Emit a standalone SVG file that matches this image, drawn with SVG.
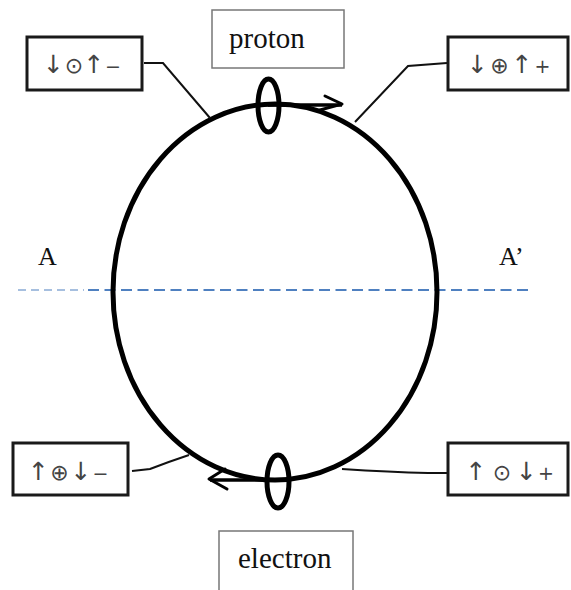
<svg xmlns="http://www.w3.org/2000/svg" width="571" height="590" viewBox="0 0 571 590">
<style>
.sym{fill:none;stroke:#1a1a1a;stroke-width:3}
.lbl{fill:#fff;stroke:#777;stroke-width:1.5}
.symtxt{font-family:"DejaVu Sans",sans-serif;font-size:21px;fill:#444;text-anchor:middle}
.ar{font-family:"DejaVu Sans",sans-serif;font-size:25px}
.ci{font-family:"DejaVu Sans",sans-serif;font-size:22px}
.pm{font-family:"DejaVu Sans",sans-serif;font-size:19px}
.serif{font-family:"Liberation Serif","Times New Roman",serif;fill:#111}
.lead{fill:none;stroke:#111;stroke-width:2}
.dash{fill:none;stroke:#4f80c0}
</style>
<rect width="571" height="590" fill="#fff"/>
<g id="axis">
<line class="dash" x1="18" y1="290" x2="84" y2="290" stroke-width="1.2" stroke-dasharray="8,5"/>
<line class="dash" x1="88" y1="290" x2="532" y2="290" stroke-width="2.2" stroke-dasharray="11,5.5"/>
<text class="serif" x="38" y="265" font-size="26">A</text>
<text class="serif" x="499" y="265" font-size="26">A’</text>
</g>
<g id="orbit">
<ellipse cx="275" cy="292" rx="162" ry="188" fill="none" stroke="#000" stroke-width="5"/>
</g>
<g id="connectors">
<polyline class="lead" points="144,63 163,63 210,118"/>
<polyline class="lead" points="447,63 408,66 355,122"/>
<path class="lead" d="M132,471 L150,469 Q168,462 189,455"/>
<path class="lead" d="M342,469 Q390,472 428,473 L447,473"/>
</g>
<g id="proton">
<rect class="lbl" x="212" y="10" width="132" height="58"/>
<text class="serif" x="229" y="48" font-size="29">proton</text>
<ellipse cx="268.5" cy="105.5" rx="10.5" ry="26.5" fill="none" stroke="#000" stroke-width="5"/>
<line x1="268" y1="105" x2="342" y2="105" stroke="#000" stroke-width="3.5"/>
<polyline points="325,96 342,104 320,110" fill="none" stroke="#000" stroke-width="3" stroke-linejoin="round" stroke-linecap="round"/>
</g>
<g id="electron">
<rect class="lbl" x="219" y="531" width="134" height="80"/>
<text class="serif" x="238" y="568" font-size="29">electron</text>
<ellipse cx="278" cy="481.5" rx="11" ry="26.5" fill="none" stroke="#000" stroke-width="5"/>
<line x1="278" y1="480" x2="210" y2="480" stroke="#000" stroke-width="3.5"/>
<polyline points="225,469 209,479 227,489" fill="none" stroke="#000" stroke-width="3" stroke-linejoin="round" stroke-linecap="round"/>
</g>
<g id="box-top-left">
<rect class="sym" x="27" y="37" width="115" height="53"/>
<text class="symtxt" y="73"><tspan class="ar" x="53.5">↓</tspan><tspan class="ci" x="74">⊙</tspan><tspan class="ar" x="94">↑</tspan><tspan class="pm" x="113">−</tspan></text>
</g>
<g id="box-top-right">
<rect class="sym" x="448" y="37" width="120" height="53"/>
<text class="symtxt" y="73"><tspan class="ar" x="477.5">↓</tspan><tspan class="ci" x="499.5">⊕</tspan><tspan class="ar" x="522">↑</tspan><tspan class="pm" x="542.5">+</tspan></text>
</g>
<g id="box-bottom-left">
<rect class="sym" x="13" y="443" width="115" height="52"/>
<text class="symtxt" y="480"><tspan class="ar" x="38.5">↑</tspan><tspan class="ci" x="59.5">⊕</tspan><tspan class="ar" x="81">↓</tspan><tspan class="pm" x="100.5">−</tspan></text>
</g>
<g id="box-bottom-right">
<rect class="sym" x="448" y="443" width="120" height="52"/>
<text class="symtxt" y="480"><tspan class="ar" x="476">↑</tspan><tspan class="ci" x="502">⊙</tspan><tspan class="ar" x="526.5">↓</tspan><tspan class="pm" x="546">+</tspan></text>
</g>
</svg>
